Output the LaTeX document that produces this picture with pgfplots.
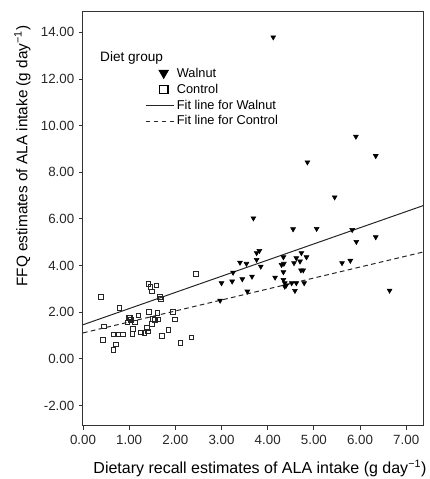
\documentclass[border=0pt]{standalone}
\usepackage{pgfplots}
\pgfplotsset{compat=1.18}
\usepackage{pgfplotstable}
\usepackage{fontspec}
\setmainfont{Liberation Sans}

\pgfplotsset{
  walnutleg/.style={legend image code/.code={\path (0pt,0pt) (21pt,0pt);
    \draw[##1, mark size=4.2pt] plot coordinates {(13.5pt,0.6pt)};}},
  controlleg/.style={legend image code/.code={\path (0pt,0pt) (21pt,0pt);
    \draw[##1, mark size=3.2pt, mark options={line width=0.9pt}] plot coordinates {(13.5pt,0pt)};}},
  lineleg/.style={legend image code/.code={\draw[##1] (0pt,0pt) -- (21pt,0pt);}},
}

\pgfplotstableread{
x y
4.12 13.79
5.91 9.53
6.34 8.70
4.86 8.43
5.45 6.93
3.69 6.03
4.55 5.56
5.06 5.58
5.83 5.53
5.92 5.02
6.34 5.22
3.76 4.54
3.82 4.63
3.76 4.25
3.40 4.13
3.54 4.08
3.85 3.96
3.25 3.70
3.00 3.25
3.23 3.32
3.45 3.42
3.66 3.53
3.56 2.89
4.34 4.36
4.30 4.03
4.35 4.08
4.57 4.11
4.62 4.32
4.70 4.18
4.73 4.54
4.84 4.36
4.72 3.80
4.77 3.80
4.16 3.49
4.34 3.72
4.34 3.39
4.37 3.25
4.40 3.15
4.37 3.10
4.52 3.25
4.62 3.25
4.79 3.25
4.59 2.92
5.61 4.11
5.79 4.21
6.64 2.93
2.97 2.50
}\walnut

\pgfplotstableread{
x y
0.39 2.66
0.79 2.18
1.42 3.22
1.46 3.08
1.49 2.89
1.59 3.15
1.67 2.65
1.69 2.58
0.45 1.39
0.43 0.81
0.66 1.04
0.77 1.04
0.87 1.04
0.71 0.62
0.66 0.38
0.99 1.75
1.02 1.78
1.04 1.68
0.96 1.56
1.13 1.56
1.08 1.29
1.07 1.06
1.20 1.86
1.43 2.01
1.61 1.98
1.52 1.72
1.63 1.69
1.56 1.67
1.49 1.51
1.26 1.13
1.33 1.11
1.38 1.32
1.40 1.18
1.71 0.99
1.85 1.24
1.95 2.02
1.99 1.69
2.11 0.69
2.35 0.92
2.45 3.63
}\control

\pgfplotstableread{
x y
0 1.46
7.37 6.57
}\fitwalnut

\pgfplotstableread{
x y
0 1.11
7.37 4.58
}\fitcontrol

\begin{document}
\begin{tikzpicture}
\begin{axis}[
  scale only axis,
  width=255.2pt, height=311pt,
  xmin=0, xmax=7.37, ymin=-2.88, ymax=14.9,
  xtick={0,1,...,7}, ytick={-2,0,...,14},
  xtick pos=bottom, ytick pos=left,
  tick align=outside,
  major tick length=3pt,
  tick style={black!80, line width=0.6pt},
  axis line style={black!80, line width=0.75pt},
  /pgf/number format/assume math mode=true,
  /pgf/number format/.cd, fixed, fixed zerofill, precision=2, /pgfplots/.cd,
  ticklabel style={font=\fontsize{10}{12}\selectfont, text=black!85},
  xlabel={Dietary recall estimates of ALA intake (g day\textsuperscript{−1})},
  ylabel={FFQ estimates of ALA intake (g day\textsuperscript{−1})},
  xlabel style={font=\fontsize{12}{14}\selectfont, at={(rel axis cs:0.52,-0.1029)}, anchor=center},
  ylabel style={font=\fontsize{11.5}{14}\selectfont, at={(rel axis cs:-0.178,0.651)}, anchor=center},
  legend style={draw=none, fill=none, font=\fontsize{9.6}{11}\selectfont,
    at={(rel axis cs:0.182,0.870)}, anchor=north west,
    inner sep=0pt, row sep=-0.6pt,
    /tikz/every even column/.append style={column sep=0pt}},
  legend cell align=left,
]
\addplot[only marks, mark=triangle*, mark size=2.1pt,
  mark options={rotate=180, fill=black, draw=black}, walnutleg]
  table[x=x, y=y] {\walnut};
\addlegendentry{Walnut}
\addplot[only marks, mark=square, mark size=1.75pt,
  mark options={draw=black!85, line width=0.6pt}, controlleg]
  table[x=x, y=y] {\control};
\addlegendentry{Control}
\addplot[black!85, line width=0.75pt, lineleg]
  table[x=x, y=y] {\fitwalnut};
\addlegendentry{Fit line for Walnut}
\addplot[black!85, line width=0.75pt, dash pattern=on 3.5pt off 2.5pt, lineleg]
  table[x=x, y=y] {\fitcontrol};
\addlegendentry{Fit line for Control}
\node[anchor=west, font=\fontsize{10.2}{12}\selectfont, inner sep=0pt]
  at (rel axis cs:0.0498,0.888) {Diet group};
\coordinate (bbsw) at (rel axis cs:-0.2439,-0.1278);
\coordinate (bbne) at (rel axis cs:1.0197,1.0272);
\end{axis}
\pgfresetboundingbox
\path[use as bounding box] (bbsw) rectangle (bbne);
\end{tikzpicture}
\end{document}
